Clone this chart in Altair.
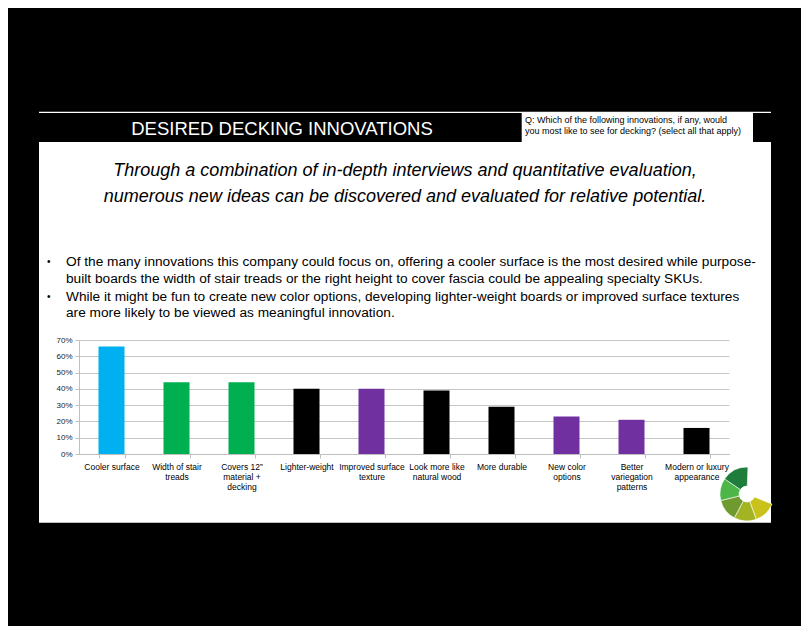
import math
import altair as alt
import pandas as pd

# ---------------- data ----------------
categories = [
    "Cooler surface",
    "Width of stair|treads",
    "Covers 12\u201d|material +|decking",
    "Lighter-weight",
    "Improved surface|texture",
    "Look more like|natural wood",
    "More durable",
    "New color|options",
    "Better|variegation|patterns",
    "Modern or luxury|appearance",
]
values = [0.66, 0.44, 0.44, 0.40, 0.40, 0.39, 0.29, 0.23, 0.21, 0.16]
bar_colors = ["#00B0F0", "#00B050", "#00B050", "#000000", "#7030A0",
              "#000000", "#000000", "#7030A0", "#7030A0", "#000000"]
y_ticks = [0, 0.1, 0.2, 0.3, 0.4, 0.5, 0.6, 0.7]

title_text = "DESIRED DECKING INNOVATIONS"
question_lines = [
    "Q:  Which of the following innovations, if any, would",
    "you most like to see for decking? (select all that apply)",
]
subtitle_lines = [
    "Through a combination of in-depth interviews and quantitative evaluation,",
    "numerous new ideas can be discovered and evaluated for relative potential.",
]
bullet_lines = [
    "Of the many innovations this company could focus on, offering a cooler surface is the most desired while purpose-",
    "built boards the width of stair treads or the right height to cover fascia could be appealing specialty SKUs.",
    "While it might be fun to create new color options, developing lighter-weight boards or improved surface textures",
    "are more likely to be viewed as meaningful innovation.",
]
bullet_marks = [0, 2]

logo_start_deg = [112, 160, 208, 256, 304]
logo_end_deg = [160, 208, 256, 304, 362]
logo_colors = ["#C9C21B", "#A2B324", "#6F9A2F", "#4CB748", "#1F7D3B"]

# ---------------- layout (page px) ----------------
OX, OY = 79, 340          # plot area origin on the page
W, H = 650, 114           # plot area size
PAD_L, PAD_T = OX - 8, OY - 8
PAD_R = 793 - PAD_L - W
PAD_B = 618 - PAD_T - H

def rx(x):
    return x - OX

def ry(y):
    return y - OY

FONT = "Liberation Sans"

df = pd.DataFrame({"cat": categories, "val": values, "color": bar_colors})

bars = alt.Chart(df).mark_bar().encode(
    x=alt.X(
        "cat:N",
        sort=categories,
        title=None,
        scale=alt.Scale(paddingInner=0.6, paddingOuter=0.3),
        axis=alt.Axis(
            labelAngle=0,
            labelExpr="split(datum.label, '|')",
            labelFontSize=8.5,
            labelFont=FONT,
            labelColor="#000000",
            labelLineHeight=10,
            labelPadding=4,
            labelLimit=200,
            tickBand="extent",
            tickSize=4,
            tickColor="#BFBFBF",
            domainColor="#BFBFBF",
            grid=False,
        ),
    ),
    y=alt.Y(
        "val:Q",
        title=None,
        scale=alt.Scale(domain=[0, 0.7], nice=False),
        axis=alt.Axis(
            values=y_ticks,
            format=".0%",
            labelFontSize=8,
            labelFont=FONT,
            labelColor="#222222",
            labelPadding=3,
            tickSize=4,
            tickColor="#BFBFBF",
            domainColor="#BFBFBF",
            gridColor="#C6C6C6",
            gridWidth=1,
        ),
    ),
    color=alt.Color("color:N", scale=None, legend=None),
)

def rect(x1, x2, y1, y2, color):
    return alt.Chart(pd.DataFrame({"k": [0]})).mark_rect(color=color).encode(
        x=alt.value(rx(x1)), x2=alt.value(rx(x2)),
        y=alt.value(ry(y1)), y2=alt.value(ry(y2)),
    )

def text(s, x, y, size, color="#000000", align="left", style="normal"):
    return alt.Chart(pd.DataFrame({"t": [s]})).mark_text(
        font=FONT, fontSize=size, color=color, align=align,
        baseline="middle", fontStyle=style,
    ).encode(x=alt.value(rx(x)), y=alt.value(ry(y)), text="t:N")

layers = [
    rect(8, 801, 8, 111.7, "#000000"),
    rect(8, 801, 522.7, 626, "#000000"),
    rect(8, 39, 111, 523, "#000000"),
    rect(771, 801, 111, 523, "#000000"),
    rect(39, 521.7, 113, 142, "#000000"),
    rect(753, 771, 113, 142, "#000000"),
    text(title_text, 282, 128.5, 18.5, color="#FFFFFF", align="center"),
    text(question_lines[0], 525, 120, 9),
    text(question_lines[1], 525, 131, 9),
    text(subtitle_lines[0], 405, 171, 18, align="center", style="italic"),
    text(subtitle_lines[1], 405, 197, 18, align="center", style="italic"),
]

bullet_y = [262, 279, 297, 313]
for i, line in enumerate(bullet_lines):
    layers.append(text(line, 66, bullet_y[i], 13.7))
    if i in bullet_marks:
        layers.append(text("\u2022", 47, bullet_y[i], 10))

logo_df = pd.DataFrame({
    "t0": [math.radians(a) for a in logo_start_deg],
    "t1": [math.radians(a) for a in logo_end_deg],
    "color": logo_colors,
})
logo = alt.Chart(logo_df).mark_arc(radius=27, radius2=8, stroke="#FFFFFF", strokeWidth=0.6).encode(
    theta=alt.Theta("t0:Q", scale=None),
    theta2="t1:Q",
    x=alt.value(rx(747)),
    y=alt.value(ry(494)),
    color=alt.Color("color:N", scale=None, legend=None),
)
layers.append(logo)
layers.append(bars)

chart = alt.layer(*layers).properties(
    width=W,
    height=H,
    padding={"left": PAD_L, "top": PAD_T, "right": PAD_R, "bottom": PAD_B},
    autosize=alt.AutoSizeParams(type="none"),
    background="#FFFFFF",
).configure_view(stroke=None)

chart.save("out.html", embed_options={"renderer": "svg", "actions": False})
